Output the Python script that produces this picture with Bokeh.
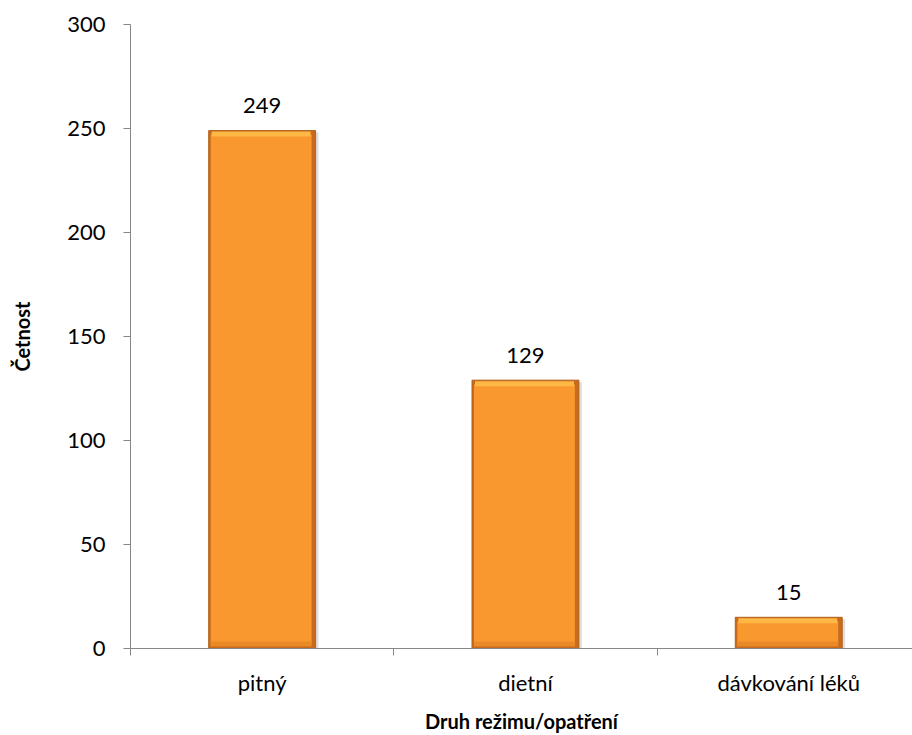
from bokeh.plotting import figure
from bokeh.models import Range1d, FixedTicker, ColumnDataSource
from bokeh.core.properties import value
from bokeh.embed import file_html
from bokeh.resources import INLINE

categories = ["pitný", "dietní", "dávkování léků"]
counts = [249, 129, 15]
y_ticks = [0, 50, 100, 150, 200, 250, 300]

FONT = "Lato"
W, H = 912, 735
left, top = 130, 24
frame_w, frame_h = W - left, 624
cat_px = 263.3
u = 300.0 / frame_h   # data units per px (y)
xu = 1.0 / cat_px     # data units per px (x)

xs = [i + 0.5 for i in range(len(categories))]
src = ColumnDataSource(dict(x=xs, top=counts, label=[str(c) for c in counts]))

p = figure(frame_width=frame_w, frame_height=frame_h, output_backend="svg",
           toolbar_location=None,
           x_range=Range1d(0, frame_w / cat_px), y_range=Range1d(0, 300),
           min_border_left=left, min_border_right=0, min_border_top=top,
           min_border_bottom=0)
p.outline_line_color = None
p.grid.grid_line_color = None
p.background_fill_color = "white"
p.border_fill_color = "white"

bw = 0.406
# shadow
p.vbar(x=[x + 3 * xu for x in xs], width=bw, top=[c - 2 * u for c in counts],
       bottom=[-4 * u] * 3, fill_color="#000000", fill_alpha=0.12, line_color=None)
# main bar (darker base for edges)
p.vbar(x="x", width=bw, top="top", bottom=0, source=src,
       fill_color="#C96A1C", line_color="#B0601A", line_width=1)
# inner face
p.vbar(x=[x - 1 * xu for x in xs], width=bw - 6 * xu,
       top=[c - 4 * u for c in counts], bottom=[4 * u] * 3,
       fill_color="#F8982F", line_color=None)
# top highlight band
p.vbar(x=[x - 1 * xu for x in xs], width=bw - 8 * xu,
       top=[c - 1 * u for c in counts], bottom=[c - 6 * u for c in counts],
       fill_color="#FDB845", line_color=None)
# bottom slight dark band
p.vbar(x=[x - 1 * xu for x in xs], width=bw - 6 * xu,
       top=[7 * u] * 3, bottom=[2 * u] * 3,
       fill_color="#EA8A27", line_color=None)

p.text(x="x", y="top", text="label", source=src, text_align="center",
       text_baseline="alphabetic", y_offset=-25, text_font=value(FONT),
       text_font_size="22px", text_color="black")

# y axis
ya = p.yaxis[0]
ya.ticker = FixedTicker(ticks=y_ticks)
ya.axis_line_color = "#868686"
ya.major_tick_line_color = "#868686"
ya.major_tick_out = 7
ya.major_tick_in = 0
ya.minor_tick_line_color = None
ya.major_label_text_font = FONT
ya.major_label_text_font_size = "22px"
ya.major_label_text_color = "black"
ya.major_label_standoff = 18
ya.axis_label = "Četnost"
ya.axis_label_text_font = FONT
ya.axis_label_text_font_style = "bold"
ya.axis_label_text_font_size = "20px"
ya.axis_label_text_color = "black"
ya.axis_label_standoff = 30

# x axis
xa = p.xaxis[0]
xa.ticker = FixedTicker(ticks=xs, minor_ticks=[0, 1, 2, 3])
xa.major_label_overrides = {x: c for x, c in zip(xs, categories)}
xa.axis_line_color = "#868686"
xa.major_tick_line_color = None
xa.major_tick_out = 0
xa.major_tick_in = 0
xa.minor_tick_line_color = "#868686"
xa.minor_tick_out = 7
xa.minor_tick_in = 0
xa.major_label_text_font = FONT
xa.major_label_text_font_size = "22px"
xa.major_label_text_color = "black"
xa.major_label_standoff = 13
xa.axis_label = "Druh režimu/opatření"
xa.axis_label_text_font = FONT
xa.axis_label_text_font_style = "bold"
xa.axis_label_text_font_size = "20px"
xa.axis_label_text_color = "black"
xa.axis_label_standoff = 10

open("out.html", "w").write(file_html(p, INLINE))
